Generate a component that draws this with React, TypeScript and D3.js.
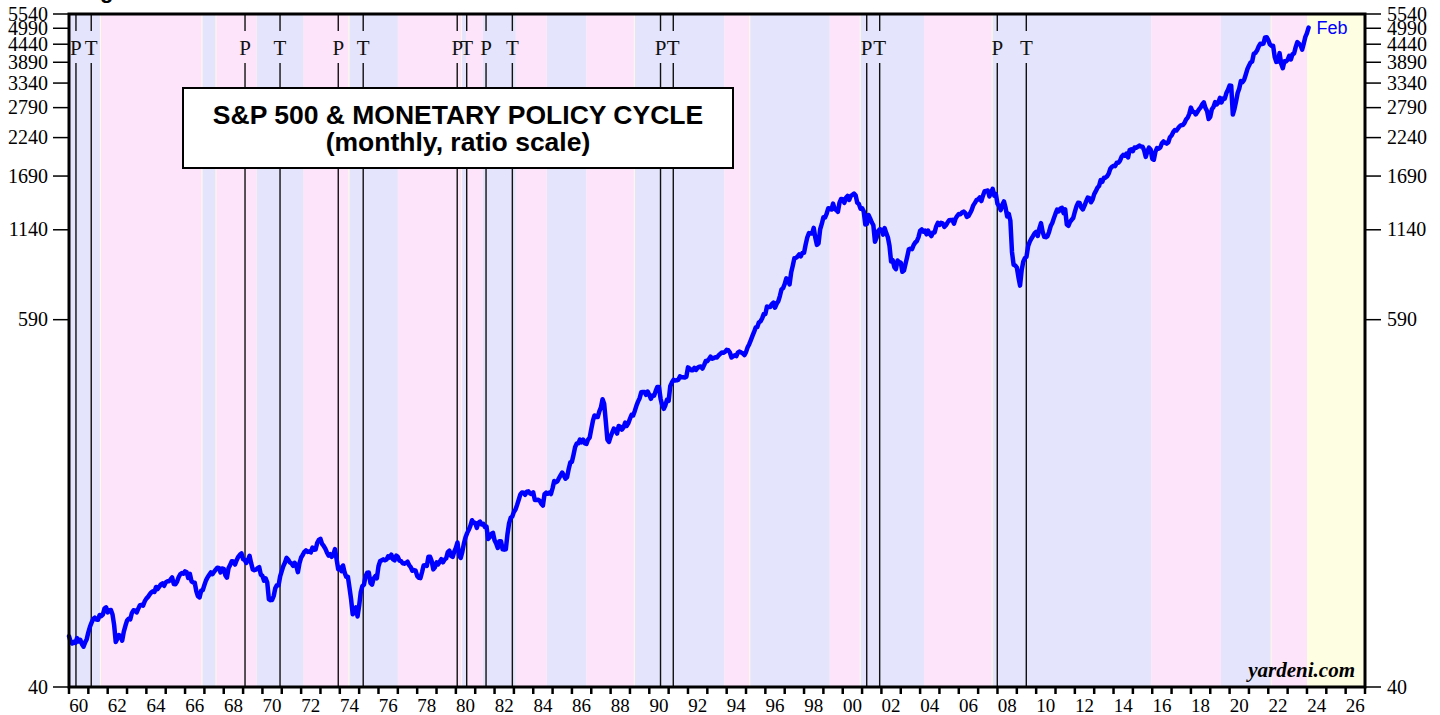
import React from "react";
import * as d3 from "d3";

// S&P 500 monthly (average) values, Jan 1960 .. Feb 2024
const sp1960s = [
  58.03, 55.78, 55.02, 55.73, 55.22, 57.26, 55.84, 56.51, 54.81, 53.73, 55.47, 56.8,
  59.72, 62.17, 64.12, 65.83, 66.5, 65.62, 65.44, 67.79, 67.26, 68.0, 71.08, 71.74,
  69.07, 70.22, 70.29, 68.05, 62.99, 55.63, 56.97, 58.52, 58.0, 56.17, 60.04, 62.64,
  65.06, 65.92, 65.67, 68.76, 70.14, 70.11, 69.07, 70.98, 72.85, 73.03, 72.62, 75.02,
  76.45, 77.39, 78.8, 79.94, 80.72, 80.24, 83.22, 82.0, 83.41, 84.85, 85.44, 83.96,
  86.12, 86.75, 86.83, 87.97, 89.28, 85.04, 84.91, 86.49, 89.38, 91.39, 92.15, 91.73,
  93.32, 92.69, 88.88, 91.6, 86.78, 86.06, 85.84, 80.65, 77.81, 77.13, 80.99, 81.33,
  84.45, 87.36, 89.42, 90.96, 92.59, 91.43, 93.01, 94.49, 95.81, 95.66, 92.66, 95.3,
  95.04, 90.75, 89.09, 95.67, 97.87, 100.5, 100.3, 98.11, 101.3, 103.8, 105.4, 106.5,
  102.0, 101.5, 99.3, 101.3, 104.6, 99.14, 94.71, 94.18, 94.51, 95.52, 96.21, 91.11,
];
const sp1970s = [
  90.31, 87.16, 88.65, 85.95, 76.06, 75.59, 75.72, 77.92, 82.58, 84.37, 84.28, 90.05,
  93.49, 97.11, 99.6, 103.04, 101.64, 99.72, 99.0, 97.24, 99.4, 97.29, 92.78, 99.17,
  103.3, 105.24, 107.69, 108.81, 107.65, 108.01, 107.21, 111.01, 109.39, 109.56, 115.05, 117.5,
  118.42, 114.16, 112.42, 110.27, 107.22, 104.75, 105.83, 103.8, 105.61, 109.84, 102.03, 94.78,
  96.11, 93.45, 97.44, 92.46, 89.67, 89.79, 82.82, 76.03, 68.12, 69.44, 71.74, 67.07,
  72.56, 80.1, 83.78, 84.72, 90.1, 92.4, 92.49, 85.71, 84.67, 88.57, 90.07, 88.7,
  96.86, 100.6, 101.1, 101.9, 101.2, 101.8, 104.2, 103.3, 105.5, 101.9, 101.2, 104.7,
  103.8, 101.0, 100.6, 99.05, 98.76, 99.29, 100.2, 97.75, 96.23, 93.74, 94.28, 93.82,
  90.25, 88.98, 88.82, 92.71, 97.41, 97.66, 97.19, 103.9, 103.9, 100.6, 94.71, 96.11,
  99.71, 98.23, 100.1, 102.1, 99.73, 101.7, 102.7, 107.4, 108.6, 104.5, 103.7, 107.8,
];
const sp1980s = [
  110.9, 115.3, 104.7, 103.0, 107.7, 114.6, 119.8, 123.5, 126.5, 130.2, 135.7, 133.5,
  133.0, 128.4, 133.2, 134.4, 131.7, 132.3, 129.1, 129.6, 118.3, 119.8, 122.9, 123.8,
  117.3, 114.5, 110.8, 116.3, 116.4, 109.7, 109.4, 109.7, 122.4, 132.7, 138.1, 139.4,
  144.3, 146.8, 151.9, 157.7, 164.1, 166.4, 166.0, 163.6, 167.2, 167.7, 165.2, 164.4,
  166.4, 157.3, 157.4, 157.6, 156.6, 153.1, 151.1, 164.4, 166.1, 164.8, 166.3, 164.5,
  171.6, 180.9, 179.4, 180.6, 184.9, 188.9, 192.5, 188.3, 184.1, 186.2, 197.5, 207.3,
  208.2, 219.4, 232.3, 238.0, 238.5, 245.3, 240.2, 245.0, 238.3, 237.4, 245.1, 248.6,
  264.5, 280.9, 292.5, 289.3, 289.1, 301.4, 310.1, 329.4, 318.7, 280.2, 245.0, 241.0,
  250.5, 258.1, 265.7, 262.6, 256.1, 270.7, 269.1, 263.7, 268.0, 277.4, 271.0, 276.5,
  285.4, 294.0, 292.7, 302.3, 313.9, 323.7, 331.9, 346.6, 347.3, 347.4, 340.2, 348.6,
];
const sp1990s = [
  339.97, 330.45, 338.47, 338.18, 350.25, 360.39, 360.03, 330.75, 315.41, 307.12, 315.29, 328.75,
  325.49, 362.26, 372.28, 379.68, 377.99, 378.29, 380.23, 389.4, 387.2, 386.88, 385.92, 388.51,
  416.08, 412.56, 407.36, 407.41, 414.81, 408.27, 415.05, 417.93, 418.48, 412.5, 422.84, 435.64,
  435.23, 441.7, 450.16, 443.08, 445.25, 448.06, 447.29, 454.13, 459.24, 463.9, 462.89, 465.95,
  472.99, 471.58, 463.81, 447.23, 450.9, 454.83, 451.4, 464.24, 466.96, 463.81, 461.01, 455.19,
  465.25, 481.92, 493.15, 507.91, 523.81, 539.35, 557.37, 559.11, 578.77, 582.92, 595.53, 614.57,
  614.42, 649.54, 647.07, 647.17, 661.23, 668.5, 644.07, 662.68, 674.88, 701.46, 735.67, 743.25,
  766.22, 798.39, 792.16, 763.93, 833.09, 876.29, 925.29, 927.74, 937.02, 951.16, 938.92, 962.37,
  963.36, 1023.74, 1076.83, 1112.2, 1108.42, 1108.39, 1156.58, 1074.62, 1020.64, 1032.47, 1144.43, 1190.05,
  1248.77, 1246.58, 1281.66, 1334.76, 1332.07, 1322.55, 1380.99, 1327.49, 1318.17, 1300.01, 1391.0, 1428.68,
];
const sp2000s = [
  1425.59, 1388.87, 1442.21, 1461.36, 1418.48, 1461.96, 1473.0, 1485.46, 1468.05, 1390.14, 1378.04, 1330.93,
  1335.63, 1305.75, 1185.85, 1189.84, 1270.37, 1238.71, 1204.45, 1178.5, 1044.64, 1076.59, 1129.68, 1144.93,
  1140.21, 1100.67, 1153.79, 1111.93, 1079.25, 1014.02, 903.59, 912.55, 867.81, 854.63, 909.93, 899.18,
  895.84, 837.62, 846.62, 890.03, 935.96, 988.0, 992.54, 989.53, 1019.44, 1038.73, 1049.9, 1080.64,
  1132.52, 1143.36, 1123.98, 1133.08, 1102.78, 1132.76, 1105.85, 1088.94, 1117.66, 1118.07, 1168.94, 1199.21,
  1181.41, 1199.63, 1194.9, 1164.42, 1178.28, 1202.26, 1222.24, 1224.27, 1225.92, 1191.96, 1237.37, 1262.07,
  1278.73, 1276.65, 1293.74, 1302.18, 1290.0, 1253.12, 1260.24, 1287.15, 1317.81, 1363.38, 1388.63, 1416.42,
  1424.16, 1444.79, 1406.95, 1463.65, 1511.14, 1514.49, 1520.7, 1454.62, 1497.12, 1539.66, 1463.39, 1479.23,
  1378.76, 1354.87, 1316.94, 1370.47, 1403.22, 1341.25, 1257.33, 1281.47, 1216.95, 968.8, 883.04, 877.56,
  865.58, 805.23, 757.13, 848.15, 902.41, 926.12, 935.82, 1009.72, 1044.55, 1067.66, 1088.07, 1110.38,
];
const sp2010s = [
  1123.58, 1089.16, 1152.05, 1197.32, 1125.06, 1083.36, 1079.8, 1087.28, 1122.08, 1171.58, 1198.89, 1241.53,
  1282.62, 1321.12, 1304.49, 1331.51, 1338.31, 1287.29, 1325.18, 1185.31, 1173.88, 1207.22, 1226.41, 1243.32,
  1300.58, 1352.49, 1389.24, 1386.43, 1341.27, 1323.48, 1359.78, 1403.44, 1443.42, 1437.82, 1394.51, 1422.29,
  1480.4, 1512.31, 1550.83, 1570.7, 1639.84, 1618.77, 1668.68, 1670.09, 1687.17, 1720.03, 1783.54, 1807.78,
  1822.36, 1817.03, 1863.52, 1864.26, 1889.77, 1947.09, 1973.1, 1961.53, 1993.23, 1937.27, 2044.57, 2054.27,
  2028.18, 2082.2, 2079.99, 2094.86, 2111.94, 2099.29, 2094.14, 2039.87, 1944.41, 2024.81, 2080.62, 2054.08,
  1918.6, 1904.42, 2021.95, 2075.54, 2065.55, 2083.89, 2148.9, 2177.48, 2157.69, 2143.02, 2164.99, 2246.63,
  2275.12, 2329.91, 2366.82, 2359.31, 2395.35, 2433.99, 2454.1, 2456.22, 2492.84, 2557.0, 2593.61, 2664.34,
  2789.8, 2705.16, 2702.77, 2653.63, 2701.49, 2754.35, 2793.64, 2857.82, 2901.5, 2785.46, 2723.23, 2567.31,
  2607.39, 2754.86, 2803.98, 2903.8, 2854.71, 2890.17, 2996.11, 2897.5, 2982.16, 2977.68, 3104.9, 3176.75,
];
const sp2020s = [
  3278.2, 3277.31, 2652.39, 2761.98, 2919.62, 3104.66, 3207.62, 3391.71, 3365.52, 3418.7, 3548.99, 3695.31,
  3793.75, 3883.43, 3910.51, 4141.18, 4167.85, 4238.49, 4363.71, 4454.21, 4445.54, 4460.71, 4667.39, 4674.77,
  4573.82, 4435.98, 4391.27, 4391.3, 4040.36, 3898.95, 3911.73, 4158.56, 3850.52, 3726.05, 3917.49, 3912.38,
  3960.66, 4079.68, 3968.56, 4121.47, 4146.17, 4345.37, 4508.08, 4457.36, 4409.1, 4269.4, 4460.06, 4685.05,
  4815.61, 5011.96,
];
const firstYear = 1960;
const lastMonthLabel = "Feb";

// Monetary policy periods (fractional years)
const easingPeriods = [
  [1960.0, 1961.6], [1966.9, 1967.57], [1969.7, 1972.13], [1974.5, 1977.0],
  [1980.32, 1980.52], [1981.4, 1983.1], [1984.7, 1986.75], [1989.25, 1993.88],
  [1995.22, 1999.33], [2000.93, 2004.2], [2007.75, 2015.95], [2019.55, 2022.12],
];
const tighteningPeriods = [
  [1961.65, 1966.85], [1967.62, 1969.7], [1972.13, 1974.45], [1977.0, 1980.28],
  [1980.52, 1981.4], [1983.1, 1984.7], [1986.75, 1989.2], [1993.88, 1995.17],
  [1999.33, 2000.88], [2004.2, 2007.7], [2015.95, 2019.55], [2022.17, 2024.0],
];
// Business cycle peaks (P) and troughs (T)
const cyclePeaks = [1960.36, 1969.1, 1973.92, 1980.07, 1981.56, 1990.58, 2001.24, 2007.99];
const cycleTroughs = [1961.15, 1970.91, 1975.21, 1980.56, 1982.92, 1991.24, 2001.91, 2009.49];

const yTicks = [40, 590, 1140, 1690, 2240, 2790, 3340, 3890, 4440, 4990, 5540];
const xDomain = [1960, 2027];
const yDomain = [40, 5540];

export default function App() {
  const W = 1440, H = 715;
  const L = 69, R = 1365, T = 14, B = 687;
  const x = d3.scaleLinear().domain(xDomain).range([L, R]);
  const y = d3.scaleLog().domain(yDomain).range([B, T]);

  const values = [...sp1960s, ...sp1970s, ...sp1980s, ...sp1990s, ...sp2000s, ...sp2010s, ...sp2020s];
  const pts: [number, number][] = values.map((v, i) => [firstYear + i / 12, v]);
  const line = d3.line<[number, number]>().x((d) => x(d[0])).y((d) => y(d[1])).curve(d3.curveLinear);
  const last = pts[pts.length - 1];

  const years = d3.range(xDomain[0], xDomain[1] + 1);
  const labelYears = d3.range(xDomain[0], xDomain[1], 2);

  const serif = "'Liberation Serif', 'Times New Roman', serif";
  const sans = "'Liberation Sans', Arial, sans-serif";

  const markers = [
    ...cyclePeaks.map((yr) => ({ yr, label: "P" })),
    ...cycleTroughs.map((yr) => ({ yr, label: "T" })),
  ];

  return (
    <div>
      <style>{"body{margin:0}"}</style>
      <svg width={W} height={H} style={{ display: "block", background: "#fff" }}>
        {/* cut-off heading glyph at top */}
        <text x={100} y={-2} fontFamily={sans} fontWeight="bold" fontSize={22}>g</text>

        <rect x={L} y={T} width={R - L} height={B - T} fill="#fefee2" />
        {easingPeriods.map(([a, b], i) => (
          <rect key={"e" + i} x={x(a)} y={T} width={x(b) - x(a)} height={B - T} fill="#e4e4fc" />
        ))}
        {tighteningPeriods.map(([a, b], i) => (
          <rect key={"t" + i} x={x(a)} y={T} width={x(b) - x(a)} height={B - T} fill="#fde4fb" />
        ))}

        {markers.map((m, i) => (
          <g key={"m" + i}>
            <line x1={x(m.yr)} x2={x(m.yr)} y1={T} y2={31} stroke="#111" strokeWidth={1.4} />
            <line x1={x(m.yr)} x2={x(m.yr)} y1={63} y2={B} stroke="#111" strokeWidth={1.4} />
            <text x={x(m.yr)} y={55} textAnchor="middle" fontFamily={serif} fontSize={21} fill="#111">
              {m.label}
            </text>
          </g>
        ))}

        <rect x={183} y={88} width={550} height={80} fill="#fff" stroke="#000" strokeWidth={2} />
        <text x={458} y={124} textAnchor="middle" fontFamily={sans} fontWeight="bold" fontSize={26.5}>
          S&amp;P 500 &amp; MONETARY POLICY CYCLE
        </text>
        <text x={458} y={151} textAnchor="middle" fontFamily={sans} fontWeight="bold" fontSize={26.5}>
          (monthly, ratio scale)
        </text>

        <path d={line(pts) || ""} fill="none" stroke="#0000ff" strokeWidth={4.5} strokeLinejoin="round" strokeLinecap="round" />
        <text x={x(last[0]) + 8} y={34} fontFamily={sans} fontSize={18} fill="#0000ff">{lastMonthLabel}</text>

        <text x={1355} y={677} textAnchor="end" fontFamily={serif} fontWeight="bold" fontStyle="italic" fontSize={21}>
          yardeni.com
        </text>

        <rect x={L} y={T} width={R - L} height={B - T} fill="none" stroke="#000" strokeWidth={3} />

        {yTicks.map((v) => (
          <g key={"y" + v}>
            <line x1={53} x2={L} y1={y(v)} y2={y(v)} stroke="#000" strokeWidth={1.5} />
            <line x1={R} x2={R + 16} y1={y(v)} y2={y(v)} stroke="#000" strokeWidth={1.5} />
            <text x={48} y={y(v)} dy="0.33em" textAnchor="end" fontFamily={serif} fontSize={20}>{v}</text>
            <text x={R + 22} y={y(v)} dy="0.33em" textAnchor="start" fontFamily={serif} fontSize={20}>{v}</text>
          </g>
        ))}

        {years.map((yr) => (
          <line key={"xt" + yr} x1={x(yr)} x2={x(yr)} y1={B} y2={B + 7} stroke="#000" strokeWidth={2.5} />
        ))}
        {labelYears.map((yr) => (
          <text key={"xl" + yr} x={x(yr + 0.5)} y={712} textAnchor="middle" fontFamily={serif} fontSize={19}>
            {String(yr % 100).padStart(2, "0")}
          </text>
        ))}
      </svg>
    </div>
  );
}
